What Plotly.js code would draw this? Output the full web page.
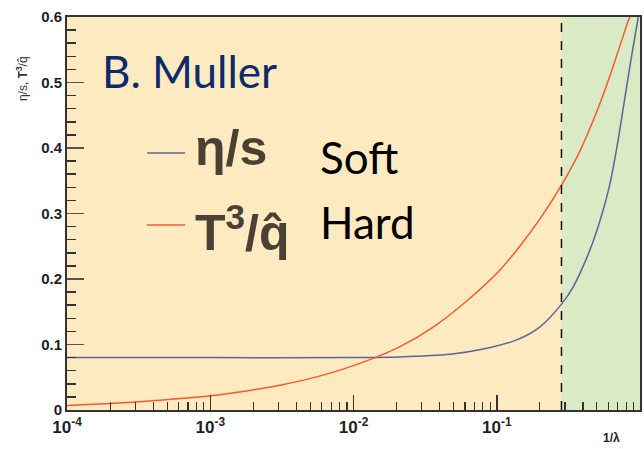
<!DOCTYPE html>
<html>
<head>
<meta charset="utf-8">
<script src="https://cdn.plot.ly/plotly-3.0.1.min.js"></script>
<style>html,body{margin:0;padding:0;background:#fff;}#chart{width:644px;height:449px;}</style>
</head>
<body>
<div id="chart"></div>
<script>
// eta/s (Soft) curve
const softX = [0.0001, 0.001, 0.01, 0.0211, 0.0472, 0.0805, 0.1377, 0.2005, 0.284, 0.342, 0.402, 0.472, 0.541, 0.618, 0.691, 0.773, 0.865, 0.973];
const softY = [0.080, 0.080, 0.080, 0.081, 0.085, 0.093, 0.107, 0.127, 0.162, 0.188, 0.220, 0.258, 0.298, 0.346, 0.402, 0.468, 0.535, 0.600];
// T^3/qhat (Hard) curve
const hardX = [0.0001, 0.0002, 0.000446, 0.001, 0.00199, 0.00307, 0.00497, 0.00805, 0.01303, 0.02112, 0.03606, 0.06168, 0.1054, 0.1453, 0.2003, 0.284, 0.3813, 0.4986, 0.6173, 0.7252, 0.8245, 0.8793];
const hardY = [0.007, 0.010, 0.015, 0.0216, 0.0306, 0.0379, 0.0479, 0.0609, 0.0769, 0.0968, 0.1266, 0.1664, 0.2138, 0.2505, 0.2917, 0.3437, 0.3957, 0.4553, 0.5104, 0.5563, 0.593, 0.608];
// boundary (dashed line) between soft and hard regions
const boundaryX = 0.283;
// tick labels
const xTickVals = [0.0001, 0.001, 0.01, 0.1, 1];
const xTickText = ['10<sup>-4</sup>', '10<sup>-3</sup>', '10<sup>-2</sup>', '10<sup>-1</sup>', '1'];
const yTickVals = [0, 0.1, 0.2, 0.3, 0.4, 0.5, 0.6];
const yTickText = ['0', '0.1', '0.2', '0.3', '0.4', '0.5', '0.6'];

const softColor = '#5a6699';
const hardColor = '#f8582c';
const legendColor = '#4a4034';

const traces = [
  {x: softX, y: softY, type: 'scatter', mode: 'lines', line: {color: softColor, width: 1.5, shape: 'spline', smoothing: 0.8}, name: 'η/s', showlegend: false},
  {x: hardX, y: hardY, type: 'scatter', mode: 'lines', line: {color: hardColor, width: 1.5, shape: 'spline', smoothing: 0.8}, name: 'T³/q̂', showlegend: false}
];

const yTickFont = {family: 'Liberation Sans, Arial, sans-serif', size: 15, color: '#1e1e2a', weight: 'bold'};
const xTickFont = {family: 'Liberation Sans, Arial, sans-serif', size: 17, color: '#1e1e2a', weight: 'bold'};

const layout = {
  width: 644, height: 449,
  margin: {l: 67, r: 4, t: 17, b: 39},
  paper_bgcolor: '#ffffff',
  plot_bgcolor: '#fdeac0',
  showlegend: false,
  xaxis: {
    type: 'log', range: [-4, 0],
    tickmode: 'array', tickvals: xTickVals, ticktext: xTickText,
    ticks: 'inside', ticklen: 15, tickwidth: 1.5, tickcolor: '#333',
    minor: {ticks: 'inside', ticklen: 8, tickwidth: 1.2, tickcolor: '#333', dtick: 'D1', showgrid: false},
    showgrid: false, zeroline: false,
    showline: true, linecolor: '#333', linewidth: 2, mirror: true,
    ticklabelstandoff: 1,
    tickfont: xTickFont
  },
  yaxis: {
    range: [0, 0.6],
    tickmode: 'array', tickvals: yTickVals, ticktext: yTickText,
    ticks: 'inside', ticklen: 17, tickwidth: 1.5, tickcolor: '#555',
    minor: {ticks: 'inside', ticklen: 9, tickwidth: 1.5, tickcolor: '#333', dtick: 0.02, showgrid: false},
    showgrid: false, zeroline: false,
    showline: true, linecolor: '#333', linewidth: 2, mirror: true,
    tickfont: yTickFont
  },
  shapes: [
    {type: 'rect', xref: 'x', yref: 'paper', x0: boundaryX, x1: 1, y0: 0, y1: 1, fillcolor: '#d9eac4', line: {width: 0}, layer: 'below'},
    {type: 'line', xref: 'x', yref: 'paper', x0: boundaryX, x1: boundaryX, y0: 0, y1: 1, line: {color: '#111', width: 1.5, dash: 'dash'}},
    {type: 'line', xref: 'paper', yref: 'paper', x0: 0.1396, x1: 0.206, y0: 0.654, y1: 0.654, line: {color: softColor, width: 1.5}},
    {type: 'line', xref: 'paper', yref: 'paper', x0: 0.1396, x1: 0.206, y0: 0.4707, y1: 0.4707, line: {color: hardColor, width: 1.5}}
  ],
  annotations: [
    {xref: 'paper', yref: 'paper', x: 0.0576, y: 0.863, xanchor: 'left', yanchor: 'middle', showarrow: false,
     text: 'B. Muller', font: {family: 'Lato, Open Sans, sans-serif', size: 44, color: '#0d2a6b'}},
    {xref: 'paper', yref: 'paper', x: 0.22, y: 0.667, xanchor: 'left', yanchor: 'middle', showarrow: false,
     text: '<b>η/s</b>', font: {family: 'Liberation Sans, Arial, sans-serif', size: 50, color: legendColor}},
    {xref: 'paper', yref: 'paper', x: 0.22, y: 0.46, xanchor: 'left', yanchor: 'middle', showarrow: false,
     text: '<b>T<sup>3</sup>/q̂</b>', font: {family: 'Liberation Sans, Arial, sans-serif', size: 50, color: legendColor}},
    {xref: 'paper', yref: 'paper', x: 0.438, y: 0.644, xanchor: 'left', yanchor: 'middle', showarrow: false,
     text: 'Soft', font: {family: 'Lato, Open Sans, sans-serif', size: 44, color: '#000'}},
    {xref: 'paper', yref: 'paper', x: 0.438, y: 0.478, xanchor: 'left', yanchor: 'middle', showarrow: false,
     text: 'Hard', font: {family: 'Lato, Open Sans, sans-serif', size: 44, color: '#000'}},
    {xref: 'paper', yref: 'paper', x: -0.0785, y: 0.842, xanchor: 'center', yanchor: 'middle', showarrow: false, textangle: -90,
     text: 'η/s, <b>T<sup>3</sup></b>/q̂', font: {family: 'Liberation Sans, Arial, sans-serif', size: 12, color: '#333'}},
    {xref: 'paper', yref: 'paper', x: 0.951, y: -0.0712, xanchor: 'center', yanchor: 'middle', showarrow: false,
     text: '<b>1/λ</b>', font: {family: 'Liberation Sans, Arial, sans-serif', size: 12, color: '#222'}}
  ]
};

Plotly.newPlot('chart', traces, layout, {displayModeBar: false, staticPlot: true});
</script>
</body>
</html>
